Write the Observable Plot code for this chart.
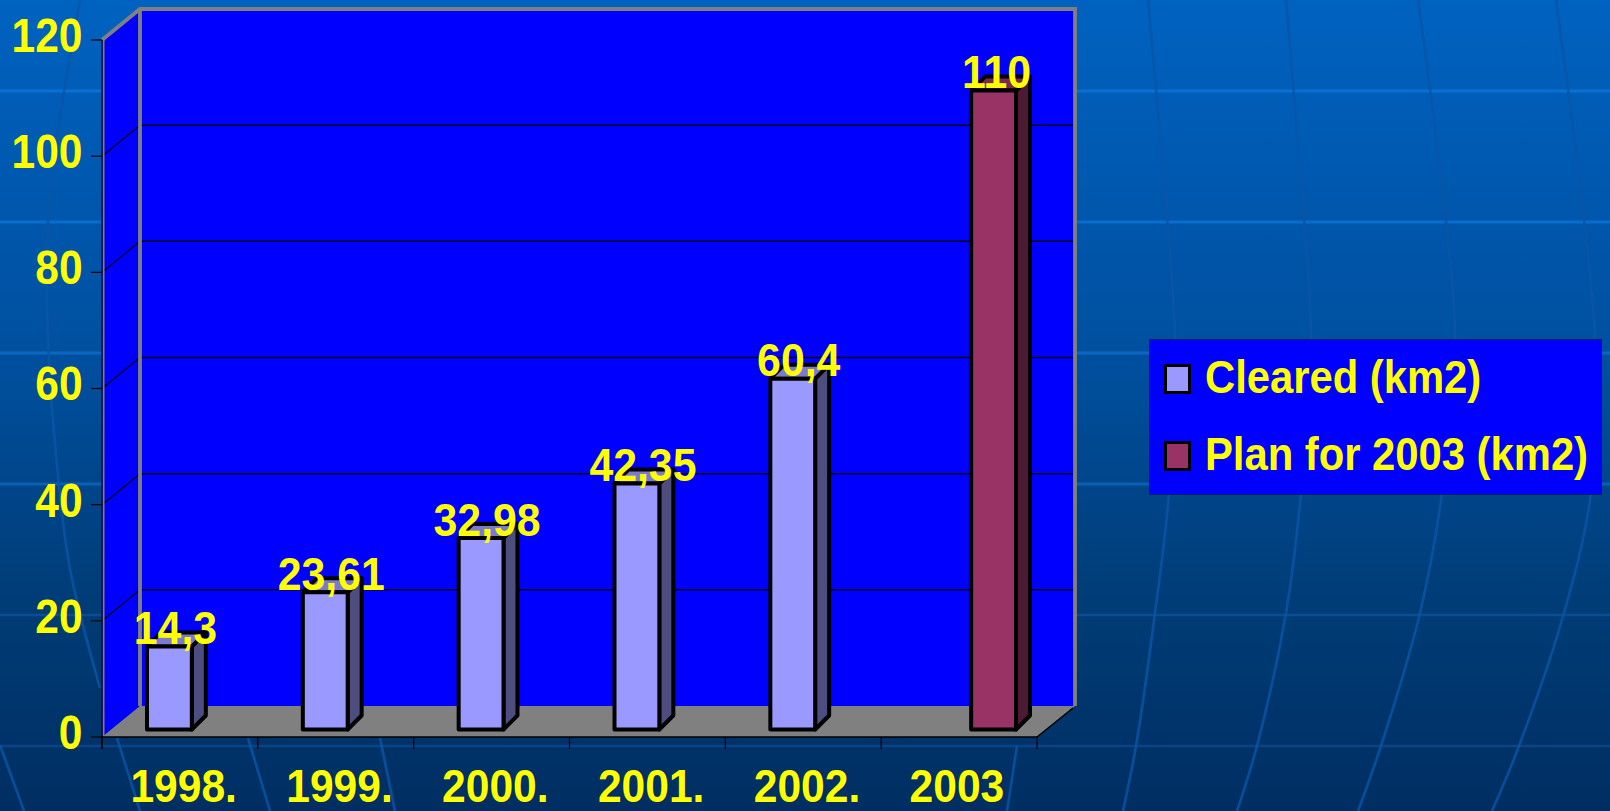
<!DOCTYPE html>
<html>
<head>
<meta charset="utf-8">
<script src="https://cdn.jsdelivr.net/npm/d3@7"></script>
<script src="https://cdn.jsdelivr.net/npm/@observablehq/plot@0.6"></script>
<style>
html,body{margin:0;padding:0;width:1610px;height:811px;overflow:hidden}
body{position:relative;background:linear-gradient(180deg,#0062c0 0%,#004f9e 45%,#003c76 75%,#002e62 100%);font-family:"Liberation Sans",Arial,sans-serif}
#bg,#chart{position:absolute;left:0;top:0}
#chart svg{background:transparent;display:block}
#legend{position:absolute;left:1149px;top:339px;width:451px;height:154px;background:#0000ff;border:1px solid #00205c;box-sizing:content-box}
.row{position:absolute;left:0;height:40px;display:flex;align-items:center;color:#ffff00;font-weight:700;font-size:46px;white-space:nowrap}
.sw{display:inline-block;box-sizing:border-box;width:27px;height:30px;border:3.5px solid #000;border-radius:1px;margin-left:14px;margin-right:14px;flex:none;transform:translateY(2px)}
.lab{display:inline-block;transform:scaleX(.908);transform-origin:left center}
</style>
</head>
<body>
<svg id="bg" width="1610" height="811"></svg>
<div id="chart"></div>
<div id="legend"></div>
<script>
const years = ["1998.", "1999.", "2000.", "2001.", "2002.", "2003"];
const clearedYears = ["1998.", "1999.", "2000.", "2001.", "2002."];
const clearedValues = [14.3, 23.61, 32.98, 42.35, 60.4];
const planYears = ["2003"];
const planValues = [110];
const yTicks = [0, 20, 40, 60, 80, 100, 120];
const seriesNames = ["Cleared (km2)", "Plan for 2003 (km2)"];
const seriesColors = ["#9999ff", "#993366"];
const seriesSides = ["#4d4d80", "#4d1933"];
const seriesTops = ["#7a7ad0", "#7a2952"];

const cleared = clearedYears.map((year, i) => ({year, value: clearedValues[i]}));
const plan = planYears.map((year, i) => ({year, value: planValues[i]}));
const comma = v => String(v).replace(".", ",");

// template decoration behind the chart
const bg = d3.select("#bg");
[[91,"#0a70d4"],[222,"#0a6ccc"],[353,"#0a68c4"],[484,"#0a60b4"],[615,"#0a4d94"],[746,"#0b4484"]].forEach(([y,c]) =>
  bg.append("line").attr("x1",0).attr("x2",1610).attr("y1",y).attr("y2",y).attr("stroke",c).attr("stroke-width",y>600?2.5:3));
const curves = [
  [[80,0],[50,191],[47,310],[57,465],[70,569],[100,688]],
  [[0,745],[24,811]],[[117,738],[140,811]],[[248,738],[270,811]],[[380,738],[395,811]],
  [[1017,746],[1007,811]],
  [[1148,0],[1163,170],[1175,340],[1169,493],[1155,613],[1136,746],[1123,811]],
  [[1286,0],[1300,170],[1311,340],[1301,493],[1286,613],[1257,746],[1237,811]],
  [[1418,0],[1440,170],[1455,340],[1442,493],[1420,613],[1381,746],[1358,811]],
  [[1556,0],[1578,170],[1595,340],[1591,493],[1564,613],[1519,746],[1492,811]]
];
const cl = d3.line().curve(d3.curveCatmullRom);
curves.forEach(c => bg.append("path").attr("d",cl(c)).attr("fill","none").attr("stroke","#0a55a8").attr("stroke-opacity",0.8).attr("stroke-width",2.7));

const depthX = 38, depthY = 31, barDepth = 14;

// walls, floor, gridlines and outer ticks of the 3D box, placed through the scales
function box3d(index, {x, y}) {
  const step = x.bandwidth();
  const x0 = x(years[0]), x1 = x(years[years.length-1]) + step;
  const y0 = y(0), yT = y(yTicks[yTicks.length-1]);
  const g = d3.create("svg:g");
  const poly = (pts, fill) => g.append("polygon").attr("points", pts.join(" ")).attr("fill",fill);
  const ln = (a,b,c,d,col,w) => g.append("line").attr("x1",a).attr("y1",b).attr("x2",c).attr("y2",d).attr("stroke",col).attr("stroke-width",w);
  poly([[x0,yT],[x0+depthX,yT-depthY],[x0+depthX,y0-depthY],[x0,y0]],"#0000ff");
  poly([[x0+depthX,yT-depthY],[x1+depthX,yT-depthY],[x1+depthX,y0-depthY],[x0+depthX,y0-depthY]],"#0000ff");
  poly([[x0,y0],[x0+depthX,y0-depthY],[x1+depthX,y0-depthY],[x1,y0]],"#808080");
  for (const t of yTicks.slice(1,-1)) {
    ln(x0+depthX,y(t)-depthY,x1+depthX,y(t)-depthY,"#000018",1.5);
    ln(x0,y(t),x0+depthX,y(t)-depthY,"#000018",1.2);
  }
  // grey frame
  g.append("path").attr("d",`M${x0},${yT}L${x0+depthX},${yT-depthY}H${x1+depthX}V${y0-depthY}M${x0+depthX},${yT-depthY}V${y0-depthY}`)
    .attr("fill","none").attr("stroke","#808080").attr("stroke-width",3.8);
  ln(x0+1.5,yT,x0+1.5,y0,"#808080",2);
  ln(x0,yT,x0,y0+12,"#000",1.2);
  ln(x0,y0,x1,y0,"#000",1.5);
  ln(x1,y0,x1+depthX-2,y0-depthY+2,"#000",1.5);
  for (const t of yTicks) ln(x0-11,y(t),x0,y(t),"#000",1.2);
  for (let i=0;i<=years.length;i++) ln(x0+i*step,y0,x0+i*step,y0+12,"#000",1.2);
  return g.node();
}

// adds the side and top faces around each front bar
function faces(side, top) {
  return function(index, scales, values, dims, ctx, next) {
    const g = next(index, scales, values, dims, ctx);
    d3.select(g).selectAll("rect").each(function() {
      const r = d3.select(this), a = +r.attr("x"), b = +r.attr("y"), w = +r.attr("width"), h = +r.attr("height");
      const host = this.parentNode, d = barDepth;
      const mk = (pts, fill) => {
        const p = document.createElementNS("http://www.w3.org/2000/svg","polygon");
        p.setAttribute("points", pts.join(" "));
        p.setAttribute("fill", fill);
        host.insertBefore(p, this);
      };
      mk([[a+w,b],[a+w+d,b-d],[a+w+d,b+h-d],[a+w,b+h]], side);
      mk([[a,b],[a+d,b-d],[a+w+d,b-d],[a+w,b]], top);
    });
    return g;
  };
}

const font = "Liberation Sans, Arial, sans-serif";
const barStyle = {stroke:"#000", strokeWidth:4, strokeLinejoin:"round", dx:12, dy:-7.5};
const labelStyle = {fill:"#ffff00", fontSize:46, fontWeight:700, fontFamily:font, lineAnchor:"middle", textAnchor:"middle", dy:-25};

const chart = Plot.plot({
  width:1610, height:811,
  marginLeft:102, marginRight:573, marginTop:40, marginBottom:74,
  style:{background:"transparent"},
  x:{type:"band", domain:years, padding:0, round:false, axis:null},
  y:{domain:[0,120], axis:null},
  marks:[
    box3d,
    Plot.barY(cleared,{x:"year",y:"value",fill:seriesColors[0],insetLeft:33,insetRight:78,...barStyle,render:faces(seriesSides[0],seriesTops[0])}),
    Plot.barY(plan,{x:"year",y:"value",fill:seriesColors[1],insetLeft:78,insetRight:33,...barStyle,render:faces(seriesSides[1],seriesTops[1])}),
    Plot.axisY({anchor:"left",ticks:yTicks,tickSize:0,tickPadding:20,dy:-4,stroke:"none",fill:"#ffff00",fontSize:48,fontWeight:700,fontFamily:font,label:null}),
    Plot.axisX({anchor:"bottom",tickSize:0,tickPadding:0,dy:32,dx:-50,textAnchor:"start",stroke:"none",fill:"#ffff00",fontSize:46,fontWeight:700,fontFamily:font,label:null}),
    Plot.text(cleared,{x:"year",y:"value",text:d=>comma(d.value),dx:-5,...labelStyle}),
    Plot.text(plan,{x:"year",y:"value",text:d=>comma(d.value),dx:37,...labelStyle})
  ]
});
document.getElementById("chart").appendChild(chart);

// the reference lettering is a horizontally squeezed Arial Bold
chart.querySelectorAll("text").forEach(t => {
  const s = t.textContent;
  const k = /^\d{1,3}$/.test(s) && yTicks.includes(+s) ? 0.885 : (years.includes(s) ? 0.925 : 0.93);
  t.setAttribute("textLength", t.getComputedTextLength() * k);
  t.setAttribute("lengthAdjust", "spacingAndGlyphs");
});

const legend = d3.select("#legend");
seriesNames.forEach((name,i) => {
  const row = legend.append("div").attr("class","row").style("top",(i===0?17:94)+"px");
  row.append("span").attr("class","sw").style("background",seriesColors[i]);
  row.append("span").attr("class","lab").text(name);
});
</script>
</body>
</html>
